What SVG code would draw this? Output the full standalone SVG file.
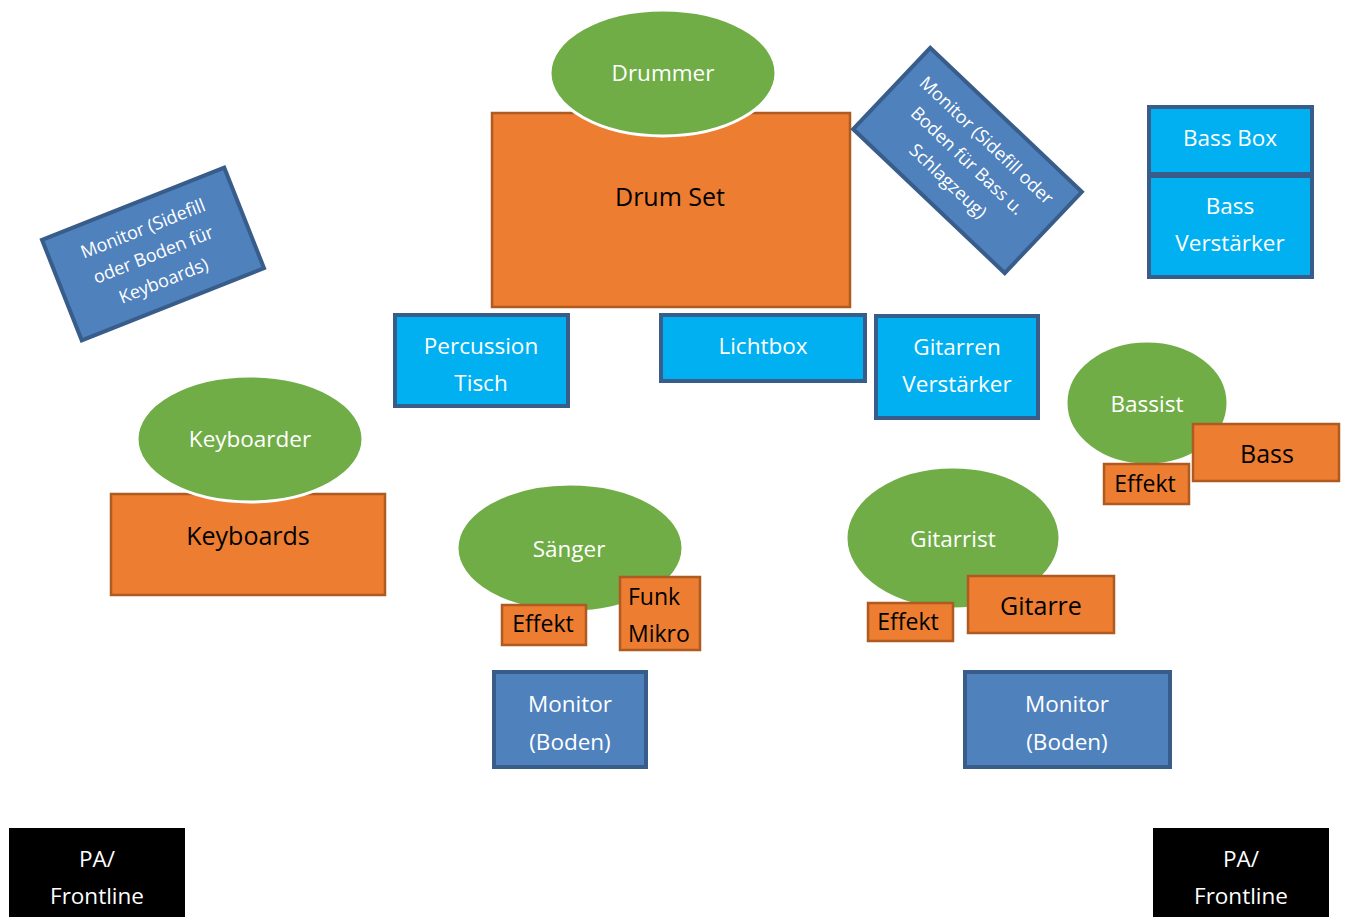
<svg xmlns="http://www.w3.org/2000/svg" width="1346" height="917" viewBox="0 0 1346 917">
<style>
text{font-family:"Open Sans","Noto Sans","Liberation Sans",sans-serif;text-anchor:middle;dominant-baseline:central}
.w{fill:#fff;font-size:22.5px}
.b{fill:#000;font-size:25px}
.p{fill:#70AD47;stroke:#fff;stroke-width:3}
.o{fill:#ED7D31;stroke:#AE5A21;stroke-width:2.5}
.c{fill:#00B0F0;stroke:#385D8A;stroke-width:4}
.m{fill:#4F81BD;stroke:#385D8A;stroke-width:4}
.k{fill:#000}
.s{font-size:18px}
</style>
<rect width="1346" height="917" fill="#fff"/>
<g id="drumset"><rect class="o" x="492" y="113" width="358" height="194"/><text class="b" x="670" y="196">Drum Set</text></g>
<g id="drummer"><ellipse class="p" cx="663" cy="73" rx="113" ry="63"/><text class="w" x="663" y="72">Drummer</text></g>
<g id="monitor-keys" transform="rotate(-21.6 153 254)"><rect class="m" x="55" y="200" width="196" height="108"/><text class="w s"><tspan x="153" y="226">Monitor (Sidefill</tspan><tspan x="153" y="254">oder Boden für</tspan><tspan x="153" y="282">Keyboards)</tspan></text></g>
<g id="monitor-drums" transform="rotate(43.5 967.5 160.5)"><rect class="m" x="863" y="104.5" width="209" height="112"/><text class="w s"><tspan x="967.5" y="132">Monitor (Sidefill oder</tspan><tspan x="967.5" y="160">Boden für Bass u.</tspan><tspan x="967.5" y="188">Schlagzeug)</tspan></text></g>
<g id="bassbox"><rect class="c" x="1149" y="107" width="163" height="67"/><text class="w" x="1230" y="137">Bass Box</text></g>
<g id="bassamp"><rect class="c" x="1149" y="176" width="163" height="101"/><text class="w"><tspan x="1230" y="205">Bass</tspan><tspan x="1230" y="242">Verstärker</tspan></text></g>
<g id="percussion"><rect class="c" x="395" y="315" width="173" height="91"/><text class="w"><tspan x="481" y="345">Percussion</tspan><tspan x="481" y="382">Tisch</tspan></text></g>
<g id="lichtbox"><rect class="c" x="661" y="315" width="204" height="66"/><text class="w" x="763" y="345">Lichtbox</text></g>
<g id="gitamp"><rect class="c" x="876" y="316" width="162" height="102"/><text class="w"><tspan x="957" y="346">Gitarren</tspan><tspan x="957" y="383">Verstärker</tspan></text></g>
<g id="keyboards"><rect class="o" x="111" y="494" width="274" height="101"/><text class="b" x="248" y="535">Keyboards</text></g>
<g id="keyboarder"><ellipse class="p" cx="250" cy="439" rx="113" ry="63"/><text class="w" x="250" y="438">Keyboarder</text></g>
<g id="bassist"><ellipse class="p" cx="1147" cy="403" rx="81" ry="62"/><text class="w" x="1147" y="403">Bassist</text></g>
<g id="bass"><rect class="o" x="1193" y="424" width="146" height="57"/><text class="b" x="1267" y="453">Bass</text></g>
<g id="bass-effekt"><rect class="o" x="1104" y="464" width="85" height="40"/><text class="b" x="1145" y="483" style="font-size:23px">Effekt</text></g>
<g id="saenger"><ellipse class="p" cx="570" cy="548" rx="113" ry="64"/><text class="w" x="569" y="548">Sänger</text></g>
<g id="saenger-effekt"><rect class="o" x="502" y="605" width="84" height="40"/><text class="b" x="543" y="623" style="font-size:23px">Effekt</text></g>
<g id="funkmikro"><rect class="o" x="620" y="577" width="80" height="73"/><text class="b" style="text-anchor:start;font-size:23px"><tspan x="628" y="596">Funk</tspan><tspan x="628" y="633">Mikro</tspan></text></g>
<g id="monitor-saenger"><rect class="m" x="494" y="672" width="152" height="95"/><text class="w"><tspan x="570" y="703">Monitor</tspan><tspan x="570" y="741">(Boden)</tspan></text></g>
<g id="gitarrist"><ellipse class="p" cx="953" cy="538" rx="107" ry="71"/><text class="w" x="953" y="538">Gitarrist</text></g>
<g id="gitarre"><rect class="o" x="968" y="576" width="146" height="57"/><text class="b" x="1041" y="605">Gitarre</text></g>
<g id="gitarre-effekt"><rect class="o" x="868" y="603" width="85" height="38"/><text class="b" x="908" y="621" style="font-size:23px">Effekt</text></g>
<g id="monitor-gitarrist"><rect class="m" x="965" y="672" width="205" height="95"/><text class="w"><tspan x="1067" y="703">Monitor</tspan><tspan x="1067" y="741">(Boden)</tspan></text></g>
<g id="pa-left"><rect class="k" x="9" y="828" width="176" height="89"/><text class="w"><tspan x="97" y="858">PA/</tspan><tspan x="97" y="895">Frontline</tspan></text></g>
<g id="pa-right"><rect class="k" x="1153" y="828" width="176" height="89"/><text class="w"><tspan x="1241" y="858">PA/</tspan><tspan x="1241" y="895">Frontline</tspan></text></g>
<g id="connectors"></g>
</svg>
